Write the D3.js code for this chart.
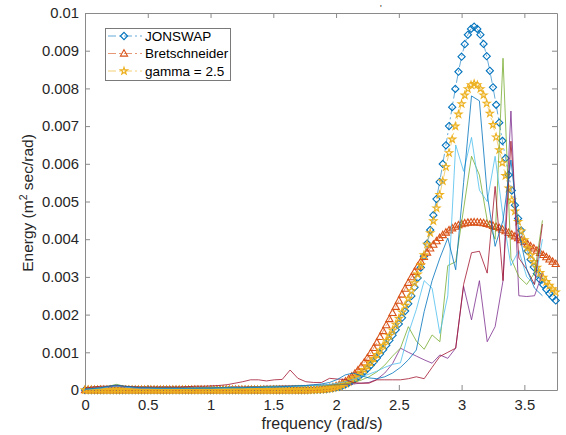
<!DOCTYPE html>
<html><head><meta charset="utf-8">
<script src="https://cdn.jsdelivr.net/npm/d3@7"></script>
<style>body{margin:0;background:#fff}svg{display:block}text{font-family:"Liberation Sans",Arial,Helvetica,sans-serif}</style>
</head><body><svg id="c" width="566" height="435"></svg>
<script>
// theoretical spectra sampling grid (rad/s)
const freq = [
0,0.025,0.05,0.075,0.1,0.125,0.15,0.175,0.2,0.225,
0.25,0.275,0.3,0.325,0.35,0.375,0.4,0.425,0.45,0.475,
0.5,0.525,0.55,0.575,0.6,0.625,0.65,0.675,0.7,0.725,
0.75,0.775,0.8,0.825,0.85,0.875,0.9,0.925,0.95,0.975,
1,1.025,1.05,1.075,1.1,1.125,1.15,1.175,1.2,1.225,
1.25,1.275,1.3,1.325,1.35,1.375,1.4,1.425,1.45,1.475,
1.5,1.525,1.55,1.575,1.6,1.625,1.65,1.675,1.7,1.725,
1.75,1.775,1.8,1.825,1.85,1.875,1.9,1.925,1.95,1.975,
2,2.025,2.05,2.075,2.1,2.125,2.15,2.175,2.2,2.225,
2.25,2.275,2.3,2.325,2.35,2.375,2.4,2.425,2.45,2.475,
2.5,2.525,2.55,2.575,2.6,2.625,2.65,2.675,2.7,2.725,
2.75,2.775,2.8,2.825,2.85,2.875,2.9,2.925,2.95,2.975,
3,3.025,3.05,3.075,3.1,3.125,3.15,3.175,3.2,3.225,
3.25,3.275,3.3,3.325,3.35,3.375,3.4,3.425,3.45,3.475,
3.5,3.525,3.55,3.575,3.6,3.625,3.65,3.675,3.7,3.725,
3.75];
const jonswap = [
0,0,0,0,0,0,0,0,0,0, 0,0,0,0,0,0,0,0,0,0, 0,0,0,0,0,0,0,0,0,0, 0,0,0,0,0,0,0,0,0,0,
0,0,0,0,0,0,0,0,0,0, 0,0,0,0,0,0,0,0,0,0, 0,0,0,0,0,0,0,0,0,0,
0,0,0.0000026,0.0000044,0.0000071,0.0000111,0.0000167,0.0000246,0.0000352,0.0000492,
0.0000671,0.0000895,0.000117,0.00015,0.000189,0.000235,0.000287,0.000346,0.000412,0.000486,
0.000567,0.000653,0.000747,0.000847,0.000955,0.001068,0.001189,0.001317,0.001453,0.001597,
0.001751,0.001916,0.002093,0.002287,0.002495,0.002723,0.002974,0.003248,0.003551,0.003883,
0.004244,0.004637,0.005065,0.005519,0.005995,0.00649,0.007001,0.007503,0.007987,0.008442,
0.00884,0.009172,0.009423,0.009578,0.009636,0.009578,0.009425,0.009178,0.008855,0.008468,
0.00803,0.007566,0.007092,0.006609,0.006146,0.005706,0.00529,0.004901,0.004551,0.004233,
0.003946,0.003689,0.003463,0.003261,0.003084,0.002928,0.002789,0.002666,0.002558,0.002461,
0.002376];
const bretschneider = [
0,0,0,0,0,0,0,0,0,0, 0,0,0,0,0,0,0,0,0,0, 0,0,0,0,0,0,0,0,0,0, 0,0,0,0,0,0,0,0,0,0,
0,0,0,0,0,0,0,0,0,0, 0,0,0,0,0,0,0,0,0,0, 0,0,0,0,0,0,0,0,0,0,
0,0,0.0000039,0.0000066,0.0000108,0.0000169,0.0000255,0.0000375,0.0000537,0.000075,
0.000102,0.000136,0.000178,0.000228,0.000288,0.000357,0.000436,0.000525,0.000624,0.000734,
0.000854,0.00098,0.001117,0.001259,0.001409,0.001563,0.001721,0.001882,0.002045,0.002208,
0.002371,0.002532,0.002689,0.002843,0.002993,0.003136,0.003275,0.003406,0.00353,0.003647,
0.003756,0.003857,0.00395,0.004034,0.004111,0.004178,0.004238,0.00429,0.004334,0.004371,
0.0044,0.004422,0.004438,0.004447,0.00445,0.004447,0.004439,0.004426,0.004407,0.004385,
0.004357,0.004327,0.004293,0.004255,0.004214,0.004171,0.004126,0.004078,0.004028,0.003976,
0.003923,0.003868,0.003813,0.003756,0.003698,0.003641,0.003582,0.003523,0.003463,0.003404,
0.003345];
const gamma25 = [
0,0,0,0,0,0,0,0,0,0, 0,0,0,0,0,0,0,0,0,0, 0,0,0,0,0,0,0,0,0,0, 0,0,0,0,0,0,0,0,0,0,
0,0,0,0,0,0,0,0,0,0, 0,0,0,0,0,0,0,0,0,0, 0,0,0,0,0,0,0,0,0,0,
0,0,0.0000029,0.0000049,0.0000079,0.0000123,0.0000186,0.0000274,0.0000392,0.0000548,
0.0000747,0.0000996,0.00013,0.000167,0.00021,0.000261,0.000319,0.000385,0.000458,0.00054,
0.000629,0.000724,0.000828,0.000938,0.001055,0.001178,0.001308,0.001444,0.001587,0.001738,
0.001896,0.002063,0.002239,0.002427,0.002628,0.00284,0.00307,0.003315,0.003579,0.003863,
0.004165,0.004483,0.004822,0.005177,0.005542,0.005917,0.006288,0.006651,0.006996,0.007313,
0.00759,0.007817,0.007986,0.008091,0.008125,0.008091,0.007988,0.007822,0.007602,0.007336,
0.007034,0.006707,0.006369,0.006025,0.005681,0.005352,0.005037,0.00474,0.004467,0.004212,
0.003978,0.003765,0.003574,0.003401,0.003247,0.003108,0.002983,0.002871,0.00277,0.002679,
0.002596];

// measured spectra sampling grid (rad/s)
const measFreq = [
0,0.063,0.126,0.188,0.251,0.314,0.377,0.44,0.503,0.565,
0.628,0.691,0.754,0.817,0.88,0.942,1.005,1.068,1.131,1.194,
1.257,1.319,1.382,1.445,1.508,1.571,1.634,1.696,1.759,1.822,
1.885,1.948,2.011,2.073,2.136,2.199,2.262,2.325,2.388,2.45,
2.513,2.576,2.639,2.702,2.765,2.827,2.89,2.953,3.016,3.079,
3.142,3.204,3.267,3.33,3.393,3.456,3.519,3.581,3.644];
const measPurple = [
0.00003,0.00005,0.00006,0.00008,0.0001,0.00008,0.00006,0.00005,0.00005,0.00005,
0.00005,0.00005,0.00005,0.00005,0.00005,0.00006,0.00006,0.00006,0.00007,0.00008,
0.00008,0.00009,0.00009,0.0001,0.0001,0.00011,0.00011,0.00012,0.00012,0.00013,
0.00013,0.00014,0.00014,0.00015,0.00016,0.00018,0.0002,0.00028,0.00045,0.0007,
0.00111,0.001,0.0009,0.0008,0.00071,0.00093,0.00084,0.00111,0.00275,0.00186,
0.0029,0.00128,0.00168,0.0029,0.0074,0.0025,0.00248,0.0025,0.0031];
const measGreen = [
0.00003,0.00004,0.00006,0.0001,0.00015,0.0001,0.00008,0.00007,0.00007,0.00006,
0.00006,0.00006,0.00005,0.00005,0.00005,0.00006,0.00006,0.00006,0.00007,0.00007,
0.00007,0.00008,0.00008,0.00009,0.0001,0.0001,0.0001,0.00011,0.00011,0.00012,
0.00012,0.00013,0.00014,0.00016,0.0002,0.00026,0.00035,0.00048,0.00066,0.0009,
0.00111,0.00168,0.0013,0.00108,0.00146,0.00128,0.0033,0.0034,0.0048,0.0062,
0.0057,0.0045,0.004,0.0088,0.0035,0.003,0.0028,0.0031,0.0045];
const measCyan = [
0.00002,0.00003,0.00005,0.00008,0.0001,0.00008,0.00006,0.00005,0.00005,0.00004,
0.00004,0.00004,0.00004,0.00004,0.00005,0.00005,0.00005,0.00005,0.00005,0.00006,
0.00006,0.00006,0.00007,0.00007,0.00008,0.00008,0.00009,0.0001,0.00011,0.00012,
0.00013,0.00015,0.00018,0.00022,0.00028,0.00035,0.00042,0.0005,0.0006,0.00068,
0.00072,0.0015,0.00213,0.0029,0.0027,0.0015,0.0025,0.0065,0.0058,0.0067,
0.0053,0.005,0.0062,0.0046,0.0033,0.0037,0.003,0.0028,0.004];
const measRed = [
0.00005,0.00008,0.0001,0.0001,0.00012,0.0001,0.00009,0.00008,0.00008,0.00008,
0.00008,0.00008,0.00008,0.00009,0.0001,0.0001,0.00011,0.00012,0.00014,0.00018,
0.00022,0.00027,0.00027,0.00024,0.00027,0.00028,0.00053,0.00031,0.00022,0.0002,
0.0002,0.00031,0.00029,0.00028,0.0002,0.00018,0.00018,0.00027,0.00027,0.00027,
0.00027,0.0003,0.00035,0.0003,0.0006,0.00089,0.001,0.00111,0.0028,0.00364,
0.00368,0.0031,0.0054,0.0029,0.0066,0.0035,0.0032,0.0028,0.0044];
const measBlue = [
0.00002,0.00004,0.00006,0.0001,0.00013,0.0001,0.00008,0.00006,0.00006,0.00005,
0.00005,0.00005,0.00005,0.00005,0.00005,0.00005,0.00005,0.00006,0.00006,0.00006,
0.00006,0.00007,0.00007,0.00008,0.00008,0.00009,0.0001,0.00011,0.00012,0.00014,
0.00016,0.0002,0.00028,0.0004,0.00045,0.00038,0.00032,0.0003,0.00035,0.00045,
0.0006,0.0008,0.00106,0.00208,0.0029,0.0035,0.00403,0.00319,0.0055,0.0078,
0.00767,0.0052,0.00381,0.0045,0.0061,0.0042,0.0032,0.0027,0.0025];

const xTicks = [0,0.5,1,1.5,2,2.5,3,3.5];
const yTicks = [0,0.001,0.002,0.003,0.004,0.005,0.006,0.007,0.008,0.009,0.01];
const legendLabels = ["JONSWAP","Bretschneider","gamma = 2.5"];

const svg = d3.select("#c");
svg.append("rect").attr("width",566).attr("height",435).attr("fill","#fff");
const L=85, R=557, T=13, B=390;
const x = d3.scaleLinear().domain([0,3.76]).range([L,R]);
const y = d3.scaleLinear().domain([0,0.01]).range([B,T]);
const axisCol = "#8a8a8a", textCol = "#262626";
const fmt = d3.format("~g");

function styleAxis(g){
  g.selectAll("path.domain").attr("stroke",axisCol);
  g.selectAll(".tick line").attr("stroke",axisCol);
  g.selectAll(".tick text").attr("fill",textCol).style("font-size","14.8px")
   .style("font-family",'"Liberation Sans",Arial,sans-serif');
}
svg.append("g").attr("transform",`translate(0,${B})`)
  .call(d3.axisBottom(x).tickValues(xTicks).tickFormat(fmt).tickSizeInner(-5).tickSizeOuter(0).tickPadding(9.5))
  .call(styleAxis);
svg.append("g").attr("transform",`translate(0,${T})`)
  .call(d3.axisTop(x).tickValues(xTicks).tickFormat("").tickSizeInner(-5).tickSizeOuter(0))
  .call(styleAxis);
svg.append("g").attr("transform",`translate(${L},0)`)
  .call(d3.axisLeft(y).tickValues(yTicks).tickFormat(fmt).tickSizeInner(-5).tickSizeOuter(0).tickPadding(6))
  .call(styleAxis);
svg.append("g").attr("transform",`translate(${R},0)`)
  .call(d3.axisRight(y).tickValues(yTicks).tickFormat("").tickSizeInner(-5).tickSizeOuter(0))
  .call(styleAxis);

// markers
const diamond = "M0,-3.6L3.6,0L0,3.6L-3.6,0Z";
const triangle = "M0,-3.8L3.6,2.6L-3.6,2.6Z";
const star = d3.symbol().type(d3.symbolStar).size(16)();

const theory = [
  {vals: jonswap, color:"#0072BD", mark: diamond},
  {vals: bretschneider, color:"#D95319", mark: triangle},
  {vals: gamma25, color:"#EDB120", mark: star}
];
const line = d3.line().x(d=>x(d[0])).y(d=>y(d[1]));
theory.forEach(s=>{
  const pts = freq.map((f,i)=>[f,s.vals[i]]);
  const g = svg.append("g");
  g.append("path").attr("d",line(pts)).attr("fill","none").attr("stroke",s.color)
    .attr("stroke-width",0.6).attr("stroke-dasharray","8,3,2,3");
  g.selectAll("path.m").data(pts).join("path").attr("class","m")
    .attr("transform",d=>`translate(${x(d[0])},${y(d[1])})`)
    .attr("d",s.mark).attr("fill","none").attr("stroke",s.color).attr("stroke-width",1.1);
});

const meas = [
  {vals: measPurple, color:"#7E2F8E"},
  {vals: measGreen, color:"#77AC30"},
  {vals: measCyan, color:"#4DBEEE"},
  {vals: measRed, color:"#A2142F"},
  {vals: measBlue, color:"#0072BD"}
];
meas.forEach(s=>{
  const pts = measFreq.map((f,i)=>[f,s.vals[i]]);
  svg.append("path").attr("d",line(pts)).attr("fill","none").attr("stroke",s.color)
    .attr("stroke-width",0.8).attr("stroke-linejoin","round");
});

// legend
const lg = svg.append("g");
lg.append("rect").attr("x",105.5).attr("y",28.5).attr("width",125).attr("height",52)
  .attr("fill","#fff").attr("stroke","#7a7a7a").attr("stroke-width",1);
legendLabels.forEach((lab,i)=>{
  const cy = 36 + i*17.5, s = theory[i];
  lg.append("line").attr("x1",108).attr("x2",142).attr("y1",cy).attr("y2",cy)
    .attr("stroke",s.color).attr("stroke-width",0.6).attr("stroke-dasharray","8,3,2,3");
  lg.append("path").attr("d",s.mark).attr("transform",`translate(124,${cy})`)
    .attr("fill","none").attr("stroke",s.color).attr("stroke-width",1.1);
  lg.append("text").attr("x",145).attr("y",cy+4.8).text(lab)
    .attr("fill","#000").style("font-size","13.5px");
});

// axis labels
svg.append("text").attr("x",322).attr("y",429).attr("text-anchor","middle")
  .attr("fill",textCol).style("font-size","16px").text("frequency (rad/s)");
const yl = svg.append("text").attr("transform","translate(33,203) rotate(-90)")
  .attr("text-anchor","middle").attr("fill",textCol).style("font-size","15.5px");
yl.append("tspan").text("Energy (m");
yl.append("tspan").attr("dy",-6).style("font-size","10.5px").text("2");
yl.append("tspan").attr("dy",6).text(" sec/rad)");
svg.append("text").attr("x",380).attr("y",11).attr("fill",textCol).style("font-size","9px").text("'");
</script></body></html>
